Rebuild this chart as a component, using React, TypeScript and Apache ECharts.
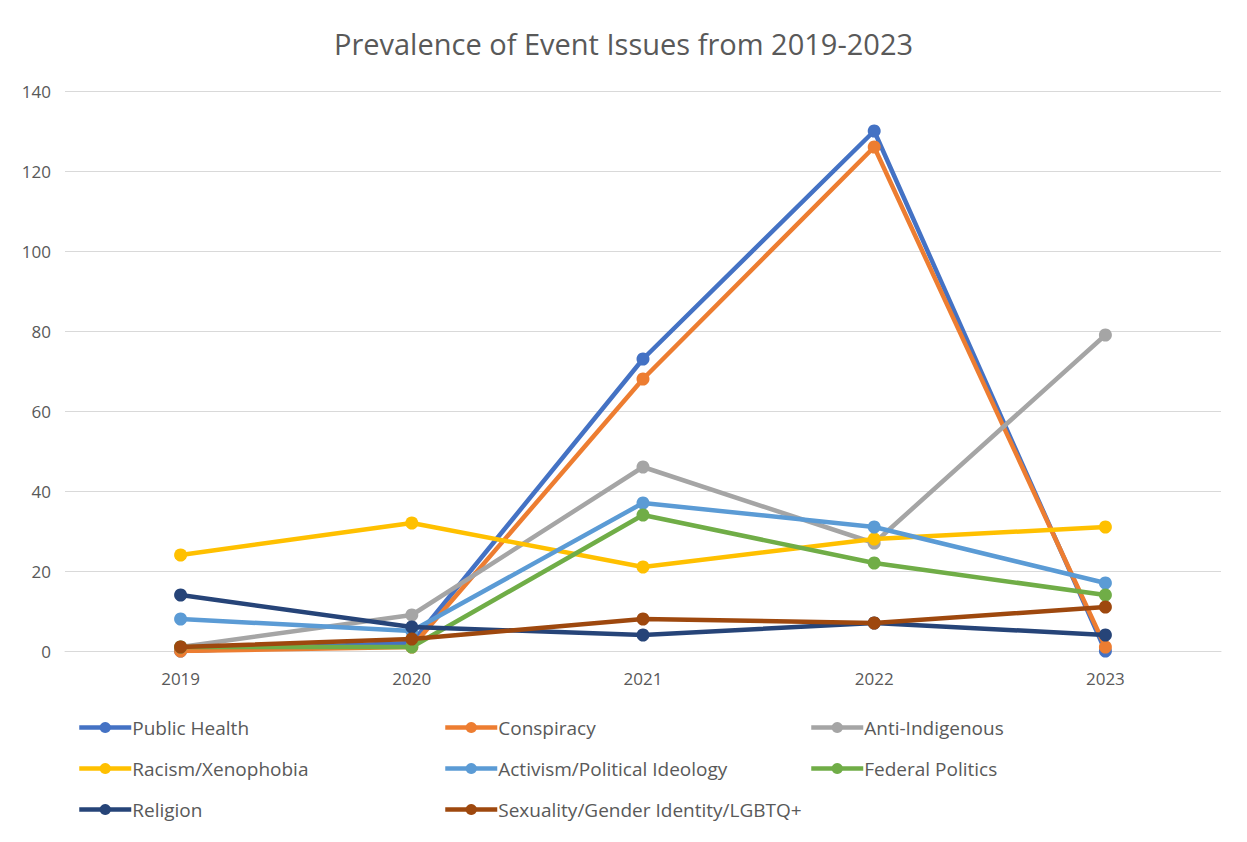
import React, { useEffect, useRef } from "react";
import * as echarts from "echarts";

const years = ["2019", "2020", "2021", "2022", "2023"];
const seriesNames = [
  "Public Health",
  "Conspiracy",
  "Anti-Indigenous",
  "Racism/Xenophobia",
  "Activism/Political Ideology",
  "Federal Politics",
  "Religion",
  "Sexuality/Gender Identity/LGBTQ+",
];
const publicHealth = [0, 2, 73, 130, 0];
const conspiracy = [0, 1, 68, 126, 1];
const antiIndigenous = [1, 9, 46, 27, 79];
const racism = [24, 32, 21, 28, 31];
const activism = [8, 5, 37, 31, 17];
const federalPolitics = [1, 1, 34, 22, 14];
const religion = [14, 6, 4, 7, 4];
const sexuality = [1, 3, 8, 7, 11];
const colors = ["#4472C4", "#ED7D31", "#A5A5A5", "#FFC000", "#5B9BD5", "#70AD47", "#264478", "#9E480E"];
const yTicks = { min: 0, max: 140, interval: 20 };

export default function App() {
  const ref = useRef<HTMLDivElement>(null);
  useEffect(() => {
    const chart = echarts.init(ref.current!, null, { renderer: "svg" });
    const values = [publicHealth, conspiracy, antiIndigenous, racism, activism, federalPolitics, religion, sexuality];
    const font = "'Open Sans', 'Noto Sans', sans-serif";
    const columns = [
      [seriesNames[0], seriesNames[3], seriesNames[6]],
      [seriesNames[1], seriesNames[4], seriesNames[7]],
      [seriesNames[2], seriesNames[5]],
    ];
    const legendLefts = [72, 438, 804];
    chart.setOption({
      animation: false,
      color: colors,
      title: {
        text: "Prevalence of Event Issues from 2019-2023",
        left: "center",
        top: 24,
        textStyle: { fontFamily: font, fontSize: 29, fontWeight: "normal", color: "#595959" },
      },
      legend: columns.map((col, i) => ({
        data: col,
        orient: "vertical",
        left: legendLefts[i],
        top: 713,
        itemWidth: 52,
        itemHeight: 14,
        itemGap: 22,
        lineStyle: { width: 4.5 },
        itemStyle: { borderWidth: 0 },
        textStyle: { fontFamily: font, fontSize: 19, color: "#595959", padding: [0, 0, 0, -4] },
      })),
      grid: { left: 65, right: 26, top: 91, bottom: 191 },
      xAxis: {
        type: "category",
        data: years,
        boundaryGap: true,
        axisLine: { lineStyle: { color: "#D9D9D9", width: 1 } },
        axisTick: { show: false },
        axisLabel: { color: "#595959", fontFamily: font, fontSize: 17, margin: 19 },
      },
      yAxis: {
        type: "value",
        min: yTicks.min,
        max: yTicks.max,
        interval: yTicks.interval,
        axisLine: { show: false },
        axisTick: { show: false },
        axisLabel: { color: "#595959", fontFamily: font, fontSize: 17, margin: 14 },
        splitLine: { lineStyle: { color: "#D9D9D9", width: 1 } },
      },
      series: seriesNames.map((name, i) => ({
        name,
        type: "line",
        data: values[i],
        symbol: "circle",
        symbolSize: 13,
        lineStyle: { width: 4.5, color: colors[i] },
        itemStyle: { color: colors[i] },
        z: 2 + i,
      })),
    });
    return () => chart.dispose();
  }, []);
  return <div ref={ref} style={{ width: 1247, height: 842, margin: -8 }} />;
}
